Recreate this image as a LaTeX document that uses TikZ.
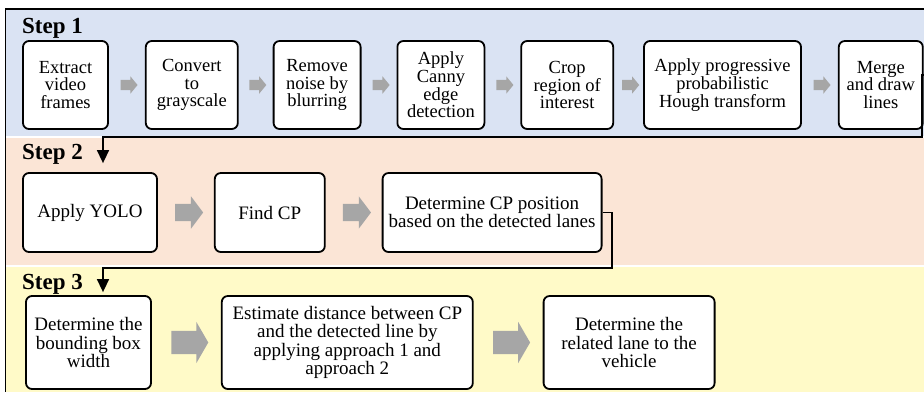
\documentclass[tikz,border=0pt]{standalone}
\usepackage{fontspec}
\setmainfont{LiberationSerif}[Extension=.ttf, UprightFont=*-Regular, BoldFont=*-Bold, ItalicFont=*-Italic, BoldItalicFont=*-BoldItalic]
\usetikzlibrary{shapes, arrows.meta, calc, positioning}

\definecolor{stepone}{HTML}{DAE3F3}
\definecolor{steptwo}{HTML}{FBE5D6}
\definecolor{stepthree}{HTML}{FFFAC8}
\definecolor{flowgrey}{HTML}{A6A6A6}

\begin{document}
\begin{tikzpicture}[x=1pt, y=-1pt, >={Triangle[width=12pt, length=13pt]}]
	\tikzstyle{task} = [draw, line width=1.8pt, rounded corners=6pt, fill=white, align=center, inner sep=2pt, font=\fontsize{19}{18.3}\selectfont]
	\tikzstyle{title} = [anchor=base west, inner sep=0pt, font=\fontsize{23}{24}\selectfont\bfseries]
	\tikzstyle{flow} = [single arrow, fill=flowgrey, draw=none, inner xsep=0pt, single arrow head indent=0pt]
	\tikzstyle{link} = [line width=1.5pt]

	\useasboundingbox (0,0) rectangle (924,392);

	\fill[stepone] (5,9) rectangle (924,136.3);
	\fill[steptwo] (5,137.7) rectangle (924,265.3);
	\fill[stepthree] (5,266.7) rectangle (924,392);
	\draw[link] (924,9) -- (5.5,9) -- (5.5,392);

	\begin{scope}[task/.append style={minimum height=88pt, font=\fontsize{18.5}{17.6}\selectfont},
		flow/.append style={minimum height=17pt, inner ysep=5pt, single arrow head extend=3.5pt, single arrow tip angle=101}]
		\node[title] (t1) at (22,33) {Step 1};
		\path
			node[task, minimum width=85pt] (a1) at (65.5,85) {Extract\\video\\frames}
			node[task, minimum width=92pt, right=36pt of a1] (a2) {Convert\\to\\grayscale}
			node[task, minimum width=87pt, right=34pt of a2] (a3) {Remove\\noise by\\blurring}
			node[task, minimum width=87pt, right=35pt of a3] (a4) {Apply\\Canny\\edge\\detection}
			node[task, minimum width=92pt, right=35pt of a4] (a5) {Crop\\region of\\interest}
			node[task, minimum width=157pt, right=29pt of a5] (a6) {Apply progressive\\probabilistic\\Hough transform}
			node[task, minimum width=84pt, right=36pt of a6] (a7) {Merge\\and draw\\lines}

			node[flow] (f1) at ($(a1.east)!.5!(a2.west)$) {}
			node[flow] (f2) at ($(a2.east)!.5!(a3.west)$) {}
			node[flow] (f3) at ($(a3.east)!.5!(a4.west)$) {}
			node[flow] (f4) at ($(a4.east)!.5!(a5.west)$) {}
			node[flow] (f5) at ($(a5.east)!.5!(a6.west)$) {}
			node[flow] (f6) at ($(a6.east)!.5!(a7.west)$) {}
		;
	\end{scope}

	\begin{scope}[task/.append style={minimum height=79pt},
		flow/.append style={minimum height=28pt, inner ysep=8.5pt, single arrow head extend=7.5pt, single arrow tip angle=106}]
		\node[title] (t2) at (22,159) {Step 2};
		\path
			node[task, minimum width=134pt] (b1) at (90,212.5) {Apply YOLO}
			node[task, minimum width=110pt, right=56pt of b1] (b2) {Find CP}
			node[task, minimum width=219pt, right=56pt of b2] (b3) {Determine CP position\\based on the detected lanes}

			node[flow] (g1) at ($(b1.east)!.5!(b2.west)$) {}
			node[flow] (g2) at ($(b2.east)!.5!(b3.west)$) {}
		;
	\end{scope}

	\begin{scope}[task/.append style={minimum height=93pt},
		flow/.append style={minimum height=37pt, inner ysep=11.5pt, single arrow head extend=9pt, single arrow tip angle=120}]
		\node[title] (t3) at (22,289) {Step 3};
		\path
			node[task, minimum width=125pt] (c1) at (88.5,342.5) {Determine the\\bounding box\\width}
			node[task, minimum width=251pt, right=69pt of c1] (c2) {Estimate distance between CP\\and the detected line by\\applying approach 1 and\\approach 2}
			node[task, minimum width=171pt, right=69pt of c2] (c3) {Determine the\\related lane to the\\vehicle}

			node[flow] (h1) at ($(c1.east)!.5!(c2.west)$) {}
			node[flow] (h2) at ($(c2.east)!.5!(c3.west)$) {}
		;
	\end{scope}

	\coordinate (r1) at (922,137);
	\coordinate (l1) at (103,137);
	\coordinate (r2) at (612,268);
	\coordinate (l2) at (103,268);
	\draw[link, ->, shorten >=9pt] ([yshift=10pt]a7.east) -| (r1) -- (l1) -- (l1 |- b1.north);
	\draw[link, ->, shorten >=3pt] (b3.east) -| (r2) -- (l2) -- (l2 |- c1.north);
\end{tikzpicture}
\end{document}
